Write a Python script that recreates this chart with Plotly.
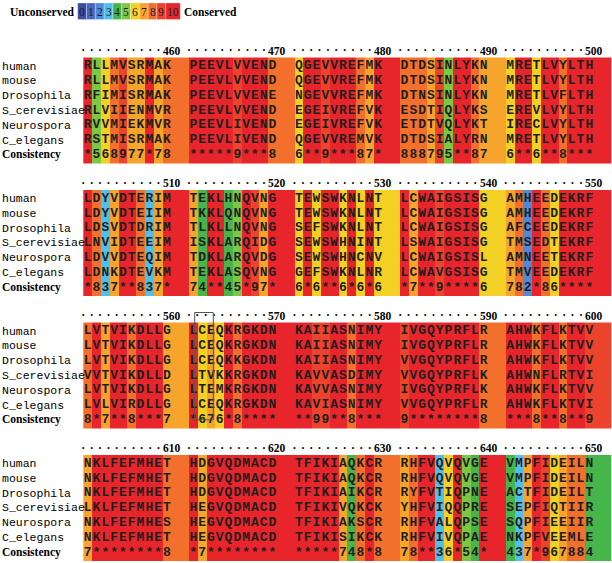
import plotly.graph_objects as go

# ---------------- data ----------------
START_POS = 451
species = ["human", "mouse", "Drosophila", "S_cerevisiae", "Neurospora", "C_elegans"]

human = [
    "RLLMVSRMAK PEEVLVVEND QGEVVREFMK DTDSINLYKN MRETLVYLTH",
    "LDYVDTERIM TEKLHNQVNG TEWSWKNLNT LCWAIGSISG AMHEEDEKRF",
    "LVTVIKDLLG LCEQKRGKDN KAIIASNIMY IVGQYPRFLR AHWKFLKTVV",
    "NKLFEFMHET HDGVQDMACD TFIKIAQKCR RHFVQVQVGE VMPFIDEILN",
]
mouse = [
    "RLLMVSRMAK PEEVLVVEND QGEVVREFMK DTDSINLYKN MRETLVYLTH",
    "LDYVDTEIIM TKKLQNQVNG TEWSWKNLNT LCWAIGSISG AMHEEDEKRF",
    "LVTVIKDLLG LCEQKRGKDN KAIIASNIMY IVGQYPRFLR AHWKFLKTVV",
    "NKLFEFMHET HDGVQDMACD TFIKIAQKCR RHFVQVQVGE VMPFIDEILN",
]
drosophila = [
    "RFIMISRMAK PEEVLVVENE NGEVVREFMK DTNSINLYKN MRETLVFLTH",
    "LDSVDTDRIM TLKLLNQVNG SEFSWKNLNT LCWAIGSISG AFCEEDEKRF",
    "LVTVIKDLLG LCEQKKGKDN KAIIASNIMY VVGQYPRFLR AHWKFLKTVV",
    "NKLFEFMHET HDGVQDMACD TFIKIAIKCR RYFVTIQPNE ACTFIDEILT",
]
s_cerevisiae = [
    "RLVIIENMVR PEEVLVVEND EGEIVREFVK ESDTIQLYKS EREVLVYLTH",
    "LNVIDTEEIM ISKLARQIDG SEWSWHNINT LSWAIGSISG TMSEDTEKRF",
    "VVTVIKDLLD LTVKKRGKDN KAVVASDIMY VVGQYPRFLK AHWNFLRTVI",
    "LKLFEFMHET HEGVQDMACD TFIKIVQKCK YHFVIQQPRE SEPFIQTIIR",
]
neurospora = [
    "RVVMIEKMVR PEEVLIVEND EGEIVREFVK ETDTVQLYKT IRECLVYLTH",
    "LDVVDTEQIM TDKLARQVDG SEWSWHNCNV LCWAIGSISL AMNEETEKRF",
    "LVTVIKDLLG LTEMKRGKDN KAVVASNIMY IVGQYPRFLK AHWKFLKTVV",
    "NKLFEFMHES HEGVQDMACD TFIKIAKSCR RHFVALQPSE SQPFIEEIIR",
]
c_elegans = [
    "RSTMISRMAK PEEVLIVEND QGEVVREMVK DTDSIALYRN MRETLVYLTH",
    "LDNKDTEVKM TEKLASQVNG GEFSWKNLNR LCWAVGSISG TMVEEDEKRF",
    "LVLVIRDLLG LCEQKRGKDN KAVIASNIMY VVGQYPRFLR AHWKFLKTVI",
    "NKLFEFMHET HEGVQDMACD TFIKISIKCK RHFVIVQPAE NKPFVEEMLE",
]
consistency = [
    "*568977*78 *****9***8 6**9***87* 888795**87 6**6**8***",
    "*837**837* 74**45*97* 6*6**6*6*6 *7**9****6 782*86****",
    "8*7**8***7 *676*8**** **99**8*** 9********8 ***8**8**9",
    "7********8 *7******** *****748*8 78**36*54* 437*967884",
]
legend_labels = ["0", "1", "2", "3", "4", "5", "6", "7", "8", "9", "10"]
palette = ["#3B4BA0", "#4466C4", "#4F8AD9", "#4EC0EC", "#46B54A", "#7DC843",
           "#F3D024", "#F6A42C", "#F2702C", "#EC442C", "#E8252B"]

sequences = [human, mouse, drosophila, s_cerevisiae, neurospora, c_elegans]

# ---------------- layout constants ----------------
W, H = 612, 563
X0 = 83.3          # left edge of first alignment column
CW = 8.8           # column width
GROUP_CELLS = 12   # 10 residues + 2 gap cells
BLOCK_TOP0 = 57.5
BLOCK_PITCH = 132.5
ROW_OFF = 8.5
ROW_H = 14.8
BG_H = 106
DOT_PITCH = 8.35

TXT = "#1e1e1e"
MONO = "Liberation Mono"
SERIF = "Liberation Serif"


def level(c):
    return 10 if c == "*" else int(c)


# discrete colorscale
cs = []
for i, c in enumerate(palette):
    cs.append([i / 11, c])
    cs.append([(i + 1) / 11, c])

fig = go.Figure()
annotations = []
shapes = []

res_x, res_y, res_t = [], [], []
dot_x, dot_y = [], []

for b in range(4):
    top = BLOCK_TOP0 + b * BLOCK_PITCH
    groups = consistency[b].split()
    levels = []
    for grp in groups:
        vals = [level(c) for c in grp]
        levels += vals + [vals[-1]] * (GROUP_CELLS - len(vals))
    edges = [X0 + i * CW for i in range(len(levels) + 1)]
    fig.add_trace(go.Heatmap(z=[levels], x=edges, y=[top, top + BG_H],
                             colorscale=cs, zmin=-0.5, zmax=10.5,
                             showscale=False, hoverinfo="skip"))

    rows = [s[b] for s in sequences] + [consistency[b]]
    labels = species + ["Consistency"]
    for r, (row, lab) in enumerate(zip(rows, labels)):
        y = top + ROW_OFF + r * ROW_H
        for g, grp in enumerate(row.split()):
            for j, ch in enumerate(grp):
                res_x.append(X0 + (g * GROUP_CELLS + j + 0.5) * CW)
                res_y.append(y)
                res_t.append(ch)
        if lab == "Consistency":
            annotations.append(dict(x=0, y=y, text="<b>Consistency</b>", xanchor="left",
                                    yanchor="middle", showarrow=False,
                                    font=dict(family=SERIF, size=11.5, color="#000")))
        else:
            annotations.append(dict(x=0, y=y, text=lab, xanchor="left", yanchor="middle",
                                    showarrow=False,
                                    font=dict(family=MONO, size=11.5, color="#000")))

    # header: dots + position numbers
    for g in range(len(groups)):
        gs = X0 + g * GROUP_CELLS * CW
        for k in range(10):
            dot_x.append(gs + k * DOT_PITCH)
            dot_y.append(top - 9)
        num = START_POS + b * 50 + g * 10 + 9
        annotations.append(dict(x=gs + 99.5, y=top - 7, text=f"<b>{num}</b>",
                                xanchor="right", yanchor="middle", showarrow=False,
                                font=dict(family=SERIF, size=11.5, color="#000")))

fig.add_trace(go.Scatter(x=res_x, y=res_y, text=res_t, mode="text",
                         textposition="middle center", hoverinfo="skip",
                         textfont=dict(family=MONO, size=13, color=TXT, weight="bold")))
fig.add_trace(go.Scatter(x=dot_x, y=dot_y, text=["."] * len(dot_x), mode="text",
                         textposition="middle center", hoverinfo="skip",
                         textfont=dict(family=SERIF, size=11.5, color="#000", weight="bold")))

# selection box in block 3 (columns 562-563)
top3 = BLOCK_TOP0 + 2 * BLOCK_PITCH
gs1 = X0 + GROUP_CELLS * CW
shapes.append(dict(type="rect", x0=gs1 + 1 * CW - 3, x1=gs1 + 3 * CW - 2,
                   y0=top3 - 10, y1=top3 + ROW_OFF + 6 * ROW_H,
                   line=dict(color="#555555", width=1), fillcolor="rgba(0,0,0,0)"))

# legend
lx = 77.7
for lab, col in zip(legend_labels, palette):
    w = 3.0 + 5.8 * len(lab)
    shapes.append(dict(type="rect", x0=lx, x1=lx + w, y0=3, y1=19.5, fillcolor=col,
                       line=dict(color="rgba(255,255,255,0.45)", width=0.6)))
    annotations.append(dict(x=lx + w / 2, y=11.5, text=lab, showarrow=False,
                            xanchor="center", yanchor="middle",
                            font=dict(family=SERIF, size=11.5, color="#1a1a2e")))
    lx += w
annotations.append(dict(x=76, y=11.5, text="<b>Unconserved</b>", xanchor="right",
                        yanchor="middle", showarrow=False,
                        font=dict(family=SERIF, size=11.5, color="#000")))
annotations.append(dict(x=lx + 1.5, y=11.5, text="<b>Conserved</b>", xanchor="left",
                        yanchor="middle", showarrow=False,
                        font=dict(family=SERIF, size=11.5, color="#000")))

fig.update_layout(
    width=W, height=H, margin=dict(l=0, r=0, t=0, b=0),
    paper_bgcolor="white", plot_bgcolor="white", showlegend=False,
    xaxis=dict(range=[0, W], visible=False, fixedrange=True),
    yaxis=dict(range=[H, 0], visible=False, fixedrange=True),
    annotations=annotations, shapes=shapes,
)
fig.write_html("out.html", config={"displayModeBar": False},
               post_script="document.body.style.margin='0';")
